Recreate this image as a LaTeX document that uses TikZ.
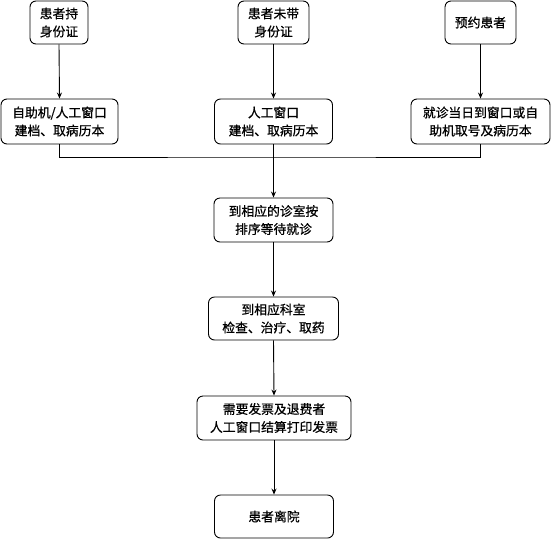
\documentclass[tikz,border=0pt]{standalone}
\usepackage{fontspec}
\setmainfont{Noto Sans CJK SC}[FakeBold=0.7]
\usetikzlibrary{arrows.meta}
\begin{document}
\begin{tikzpicture}[x=1pt,y=1pt,
  box/.style={draw=black, line width=0.9pt, rounded corners=6pt, align=center, inner sep=0pt,
    font=\fontsize{12.8}{18}\selectfont, fill=white},
  arr/.style={line width=0.9pt, -{Stealth[length=6pt,width=5pt]}},
  ln/.style={line width=0.9pt}]
\useasboundingbox (0,0) rectangle (551,-539);
\node[box, minimum width=58pt, minimum height=43pt] (b1) at (59,-22.5) {患者持\\身份证};
\node[box, minimum width=71pt, minimum height=43pt] (b2) at (273.5,-22.5) {患者未带\\身份证};
\node[box, minimum width=71pt, minimum height=43pt] (b3) at (480.5,-22.5) {预约患者};
\node[box, minimum width=117pt, minimum height=45pt] (b4) at (59.5,-121.5) {自助机/人工窗口\\建档、取病历本};
\node[box, minimum width=118pt, minimum height=45pt] (b5) at (273.5,-121.5) {人工窗口\\建档、取病历本};
\node[box, minimum width=139pt, minimum height=45pt] (b6) at (480.5,-121.5) {就诊当日到窗口或自\\助机取号及病历本};
\coordinate (j) at (273.5,-157);
\node[box, minimum width=119pt, minimum height=44pt] (b7) at (273.5,-220) {到相应的诊室按\\排序等待就诊};
\node[box, minimum width=130pt, minimum height=43pt] (b8) at (273.5,-318.5) {到相应科室\\检查、治疗、取药};
\node[box, minimum width=154pt, minimum height=44pt] (b9) at (274,-418) {需要发票及退费者\\人工窗口结算打印发票};
\node[box, minimum width=119pt, minimum height=43pt] (b10) at (274,-516.5) {患者离院};
\draw[arr] (b1.south) -- (b4.north);
\draw[arr] (b2.south) -- (b5.north);
\draw[arr] (b3.south) -- (b6.north);
\draw[ln] (b4.south) |- (j) -| (b6.south);
\draw[arr] (b5.south) -- (b7.north);
\draw[arr] (b7.south) -- (b8.north);
\draw[arr] (b8.south) -- (b9.north);
\draw[arr] (b9.south) -- (b10.north);
\end{tikzpicture}
\end{document}
